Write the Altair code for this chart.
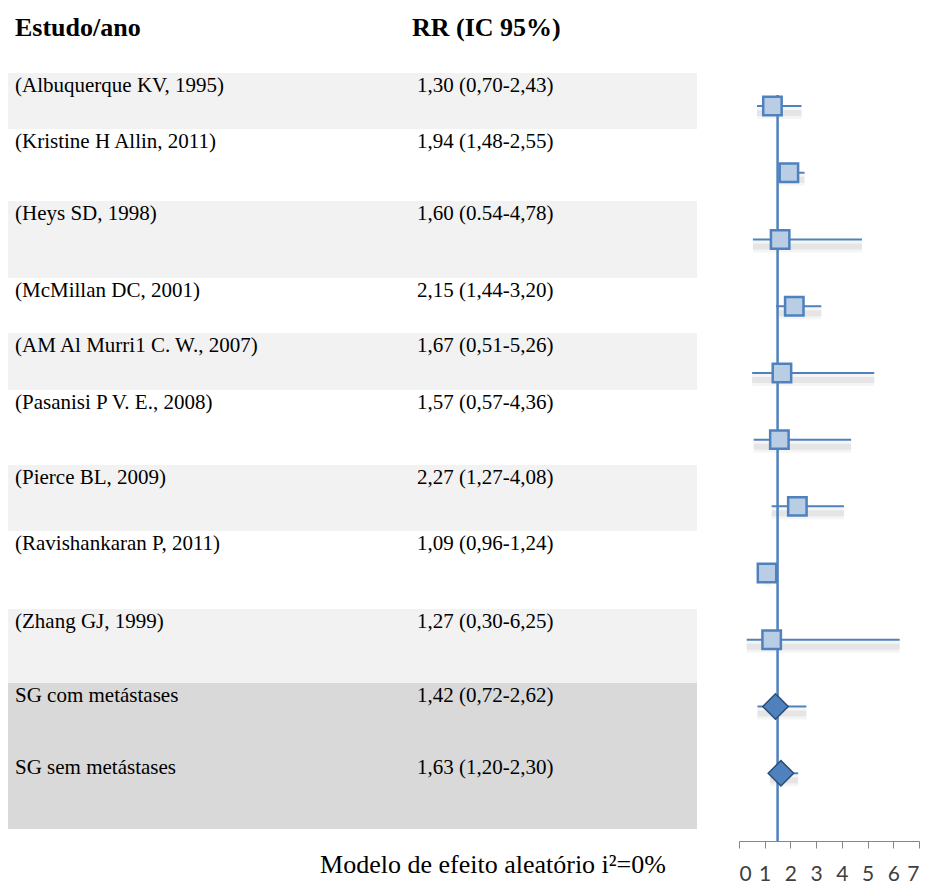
import altair as alt
import pandas as pd

# ---------------- data ----------------
studies = [
    "(Albuquerque KV, 1995)",
    "(Kristine H Allin, 2011)",
    "(Heys SD, 1998)",
    "(McMillan DC, 2001)",
    "(AM Al Murri1 C. W., 2007)",
    "(Pasanisi P V. E., 2008)",
    "(Pierce BL, 2009)",
    "(Ravishankaran P, 2011)",
    "(Zhang GJ, 1999)",
    "SG com metástases",
    "SG sem metástases",
]
rr_text = [
    "1,30 (0,70-2,43)",
    "1,94 (1,48-2,55)",
    "1,60 (0.54-4,78)",
    "2,15 (1,44-3,20)",
    "1,67 (0,51-5,26)",
    "1,57 (0,57-4,36)",
    "2,27 (1,27-4,08)",
    "1,09 (0,96-1,24)",
    "1,27 (0,30-6,25)",
    "1,42 (0,72-2,62)",
    "1,63 (1,20-2,30)",
]
rr = [1.30, 1.94, 1.60, 2.15, 1.67, 1.57, 2.27, 1.09, 1.27, 1.42, 1.63]
lo = [0.70, 1.48, 0.54, 1.44, 0.51, 0.57, 1.27, 0.96, 0.30, 0.72, 1.20]
hi = [2.43, 2.55, 4.78, 3.20, 5.26, 4.36, 4.08, 1.24, 6.25, 2.62, 2.30]
kind = ["study"] * 9 + ["pooled"] * 2
x_ticks = [0, 1, 2, 3, 4, 5, 6, 7]
ref_value = 1.5
footer = "Modelo de efeito aleatório i²=0%"
head_study = "Estudo/ano"
head_rr = "RR (IC 95%)"

# ---------------- table layout (page rows) ----------------
row_top = [73, 129, 201, 278, 333, 390, 465, 531, 609, 683, 755]
row_bottom = [129, 201, 278, 333, 390, 465, 531, 609, 683, 755, 829]
band = ["light", "white", "light", "white", "light", "white",
        "light", "white", "light", "dark", "dark"]

df = pd.DataFrame({
    "row": list(range(1, len(studies) + 1)),
    "study": studies, "rr_text": rr_text,
    "rr": rr, "lo": lo, "hi": hi, "kind": kind,
    "top": row_top, "bottom": row_bottom, "band": band,
})

SERIF = "Liberation Serif"
BLUE = "#4f81bd"

pix = alt.Scale(domain=[8, 884], range=[0, 876], nice=False, zero=False)

bands = alt.Chart(df).mark_rect().encode(
    x=alt.value(0), x2=alt.value(689),
    y=alt.Y("top:Q", scale=pix, axis=None), y2="bottom:Q",
    color=alt.Color("band:N", legend=None,
                    scale=alt.Scale(domain=["light", "white", "dark"],
                                    range=["#f2f2f2", "#ffffff", "#d9d9d9"])),
)
names = alt.Chart(df).mark_text(align="left", baseline="middle", font=SERIF,
                                fontSize=21, dy=13, color="#000000").encode(
    x=alt.value(7), y=alt.Y("top:Q", scale=pix, axis=None), text="study:N")
rrs = alt.Chart(df).mark_text(align="left", baseline="middle", font=SERIF,
                              fontSize=21, dy=13, color="#000000").encode(
    x=alt.value(409), y=alt.Y("top:Q", scale=pix, axis=None), text="rr_text:N")
h1 = alt.Chart(pd.DataFrame({"t": [head_study]})).mark_text(
    align="left", baseline="middle", font=SERIF, fontSize=26, fontWeight="bold",
    color="#000000").encode(x=alt.value(7), y=alt.value(20), text="t:N")
h2 = alt.Chart(pd.DataFrame({"t": [head_rr]})).mark_text(
    align="left", baseline="middle", font=SERIF, fontSize=26, fontWeight="bold",
    color="#000000").encode(x=alt.value(404), y=alt.value(20), text="t:N")
foot = alt.Chart(pd.DataFrame({"t": [footer]})).mark_text(
    align="center", baseline="middle", font=SERIF, fontSize=26,
    color="#000000").encode(x=alt.value(485), y=alt.value(857), text="t:N")

table = alt.layer(bands, names, rrs, h1, h2, foot)

# ---------------- forest plot ----------------
fx = alt.Scale(domain=[0, 7], range=[731, 911], nice=False, zero=False)
fy = alt.Scale(domain=[1, 12], range=[98, 832], nice=False, zero=False)
fx_axis = alt.Axis(values=x_ticks, format="d", grid=False, title=None,
                   domainColor="#868686", tickColor="#868686",
                   domainWidth=1, tickWidth=1, tickSize=7,
                   labelFont="Lato", labelFontSize=21,
                   labelColor="#404040", labelPadding=15)

shadow_wide = alt.Chart(df).mark_rule(color="#c8c8c8", strokeWidth=12,
                                      opacity=0.18, yOffset=7).encode(
    x=alt.X("lo:Q", scale=fx, axis=fx_axis), x2="hi:Q",
    y=alt.Y("row:Q", scale=fy, axis=None))
shadow = alt.Chart(df).mark_rule(color="#c0c0c0", strokeWidth=6, opacity=0.3,
                                 yOffset=7).encode(
    x=alt.X("lo:Q", scale=fx, axis=fx_axis), x2="hi:Q",
    y=alt.Y("row:Q", scale=fy, axis=None))
whisk = alt.Chart(df).mark_rule(color=BLUE, strokeWidth=2).encode(
    x=alt.X("lo:Q", scale=fx, axis=fx_axis), x2="hi:Q",
    y=alt.Y("row:Q", scale=fy, axis=None))
vline = alt.Chart(pd.DataFrame({"lo": [ref_value]})).mark_rule(
    color=BLUE, strokeWidth=2.5).encode(
    x=alt.X("lo:Q", scale=fx, axis=fx_axis), y=alt.value(87), y2=alt.value(833))
squares = alt.Chart(df).transform_filter(alt.datum.kind == "study").mark_square(
    size=340, fill="#b9cde5", stroke=BLUE, strokeWidth=2.5, opacity=1).encode(
    x=alt.X("rr:Q", scale=fx, axis=fx_axis), y=alt.Y("row:Q", scale=fy, axis=None))
diamonds = alt.Chart(df).transform_filter(alt.datum.kind == "pooled").mark_point(
    shape="diamond", filled=True, size=650, fill=BLUE, stroke="#2c4d75",
    strokeWidth=1.5, opacity=1).encode(
    x=alt.X("rr:Q", scale=fx, axis=fx_axis), y=alt.Y("row:Q", scale=fy, axis=None))

forest = alt.layer(shadow_wide, shadow, whisk, vline, squares, diamonds)

chart = alt.layer(table, forest).resolve_scale(
    x="independent", y="independent").properties(
    width=913, height=833, padding=0,
    autosize=alt.AutoSizeParams(type="pad")).configure_view(strokeWidth=0)

chart.save("out.html", embed_options={"renderer": "svg", "actions": False})
